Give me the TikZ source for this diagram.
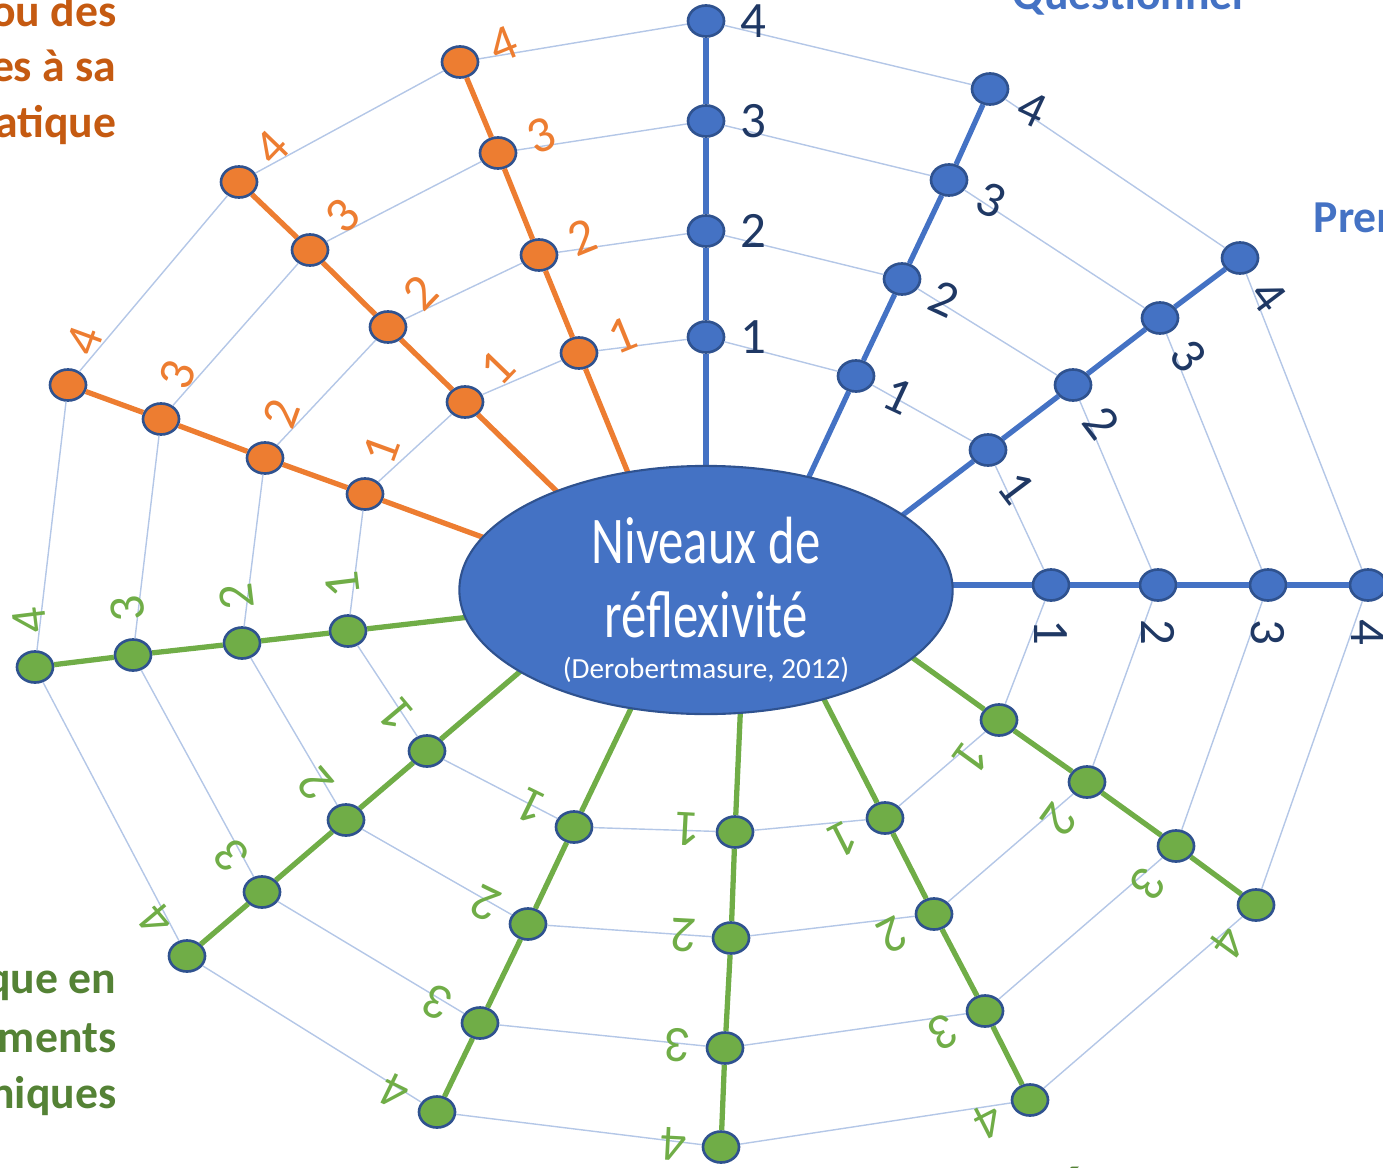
\documentclass[tikz,border=0pt]{standalone}
\usepackage{fontspec}
\setmainfont{Carlito}
\newfontfamily\narrowfont[FakeStretch=0.76]{Carlito}
\usetikzlibrary{calc,shapes.geometric}
\definecolor{ablue}{RGB}{68,114,196}
\definecolor{dblue}{RGB}{47,82,143}
\definecolor{navy}{RGB}{31,56,100}
\definecolor{aorange}{RGB}{237,125,49}
\definecolor{dorange}{RGB}{197,90,17}
\definecolor{agreen}{RGB}{112,173,71}
\definecolor{dgreen}{RGB}{84,130,53}
\definecolor{webline}{RGB}{180,199,231}
\tikzset{
  dot/.style={ellipse, draw=dblue, line width=0.75pt, minimum width=0.36cm, minimum height=0.31cm, inner sep=0pt},
  spoke/.style={line width=1.5pt},
  web/.style={webline, line width=0.4pt},
  num/.style={font=\fontsize{14.5}{14.5}\selectfont, inner sep=0pt},
  side/.style={font=\fontsize{13}{16}\selectfont\bfseries, anchor=base east, inner sep=0pt},
}
\begin{document}
\begin{tikzpicture}[x=0.01cm, y=0.01cm]
    \useasboundingbox (0,0) rectangle (1383,-1167);
    %level dots
    \foreach \p [count=\i] in {{706,-337},{706,-231},{706,-121},{706,-21}} \node[dot, fill=ablue] (b1-\i) at (\p) {};
    \foreach \p [count=\i] in {{856,-376},{902,-279},{949,-180},{990,-89}} \node[dot, fill=ablue] (b2-\i) at (\p) {};
    \foreach \p [count=\i] in {{988,-450},{1073,-385},{1160,-318},{1240,-258}} \node[dot, fill=ablue] (b3-\i) at (\p) {};
    \foreach \p [count=\i] in {{1051,-585},{1158,-585},{1268,-585},{1368,-585}} \node[dot, fill=ablue] (b4-\i) at (\p) {};
    \foreach \p [count=\i] in {{999,-720},{1087,-782},{1176,-846},{1256,-905}} \node[dot, fill=agreen] (g1-\i) at (\p) {};
    \foreach \p [count=\i] in {{885,-818},{934,-914},{985,-1011},{1030,-1100}} \node[dot, fill=agreen] (g2-\i) at (\p) {};
    \foreach \p [count=\i] in {{735,-832},{731,-938},{725,-1048},{721,-1147}} \node[dot, fill=agreen] (g3-\i) at (\p) {};
    \foreach \p [count=\i] in {{574,-827},{528,-924},{480,-1023},{437,-1112}} \node[dot, fill=agreen] (g4-\i) at (\p) {};
    \foreach \p [count=\i] in {{427,-751},{346,-820},{262,-892},{187,-956}} \node[dot, fill=agreen] (g5-\i) at (\p) {};
    \foreach \p [count=\i] in {{348,-631},{242,-643},{133,-655},{35,-667}} \node[dot, fill=agreen] (g6-\i) at (\p) {};
    \foreach \p [count=\i] in {{365,-494},{265,-458},{161,-419},{68,-385}} \node[dot, fill=aorange] (o1-\i) at (\p) {};
    \foreach \p [count=\i] in {{465,-402},{388,-327},{310,-250},{239,-182}} \node[dot, fill=aorange] (o2-\i) at (\p) {};
    \foreach \p [count=\i] in {{579,-353},{539,-255},{498,-153},{460,-62}} \node[dot, fill=aorange] (o3-\i) at (\p) {};
    %web
    \foreach \i in {1,...,4}
        \draw[web] (b1-\i) -- (b2-\i) -- (b3-\i) -- (b4-\i) -- (g1-\i) -- (g2-\i) -- (g3-\i) -- (g4-\i) -- (g5-\i) -- (g6-\i) -- (o1-\i) -- (o2-\i) -- (o3-\i) -- (b1-\i);
    %spokes and numbers
    \foreach \s/\r/\c/\t in {b1/0/ablue/navy, b2/-25/ablue/navy, b3/-53/ablue/navy, b4/-90/ablue/navy,
                             g1/-126/agreen/agreen, g2/-153/agreen/agreen, g3/-183/agreen/agreen, g4/-206/agreen/agreen, g5/-230/agreen/agreen, g6/-263/agreen/agreen,
                             o1/70/aorange/aorange, o2/46/aorange/aorange, o3/22/aorange/aorange} {
        \draw[spoke, \c] ($(\s-1)!-0.6!(\s-4)$) -- (\s-1) -- (\s-2) -- (\s-3) -- (\s-4);
        \foreach \i in {1,...,4}
            \node[num, text=\t, rotate=\r] at ($(\s-\i)+(\r:47)$) {\i};
    }
    %centre
    \node[ellipse, fill=ablue, draw=dblue, line width=0.6pt, minimum width=4.93cm, minimum height=2.48cm] (centre) at (706,-590) {};
    \node[text=white, font=\narrowfont\fontsize{19}{19}\selectfont, anchor=base, inner sep=0pt] (title1) at (706,-563) {Niveaux de};
    \node[text=white, font=\narrowfont\fontsize{19}{19}\selectfont, anchor=base, inner sep=0pt] (title2) at (706,-637) {réflexivité};
    \node[text=white, font=\fontsize{8.3}{8.5}\selectfont, anchor=base, inner sep=0pt] (source) at (706,-678) {(Derobertmasure, 2012)};
    %cut texts at the edges
    \node[side, text=dorange] (or1) at (117,-27) {ou des};
    \node[side, text=dorange] (or2) at (117,-82) {es à sa};
    \node[side, text=dorange] (or3) at (117,-138) {atique};
    \node[side, text=dgreen] (gr1) at (117,-993) {que en};
    \node[side, text=dgreen] (gr2) at (117,-1052) {ments};
    \node[side, text=dgreen] (gr3) at (117,-1108) {niques};
    \node[side, text=ablue, anchor=base west] (bl1) at (1012,-10) {Questionner};
    \node[side, text=ablue, anchor=base west] (bl2) at (1313,-232) {Prem};
    \node[side, text=dgreen, anchor=base west] (gr4) at (1058,-1205) {É};
\end{tikzpicture}
\end{document}
